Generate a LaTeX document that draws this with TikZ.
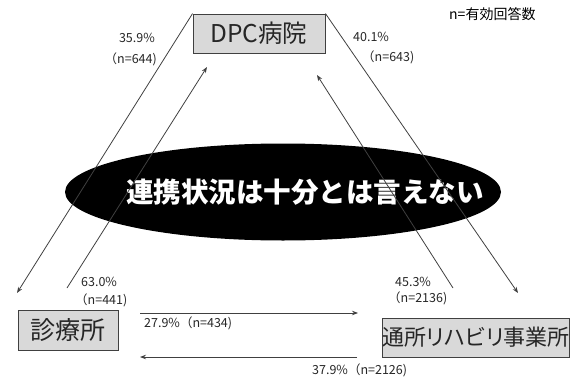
\documentclass[tikz,border=0pt]{standalone}
\usepackage{fontspec}
\setmainfont{Noto Sans CJK JP}
\newfontfamily\jpp[RawFeature=+palt]{Noto Sans CJK JP}
\usetikzlibrary{arrows.meta,shapes.geometric}
\definecolor{boxfill}{HTML}{D9D9D9}
\definecolor{linec}{HTML}{404040}
\tikzset{
  place/.style={draw=linec,fill=boxfill,line width=0.9pt,inner sep=0pt,font=\jpp\fontsize{24}{28}\selectfont},
  conn/.style={draw=linec,line width=0.8pt},
  arr/.style={conn,-{Stealth[length=6pt,width=4.5pt]}},
  lbl/.style={inner sep=0pt,font=\fontsize{12.5}{14}\selectfont,text=black!85},
}
\begin{document}
\begin{tikzpicture}[x=1pt,y=-1pt]
\useasboundingbox (0,0) rectangle (579,378);
% ellipse
\node[ellipse,fill=black,minimum width=436pt,minimum height=97pt,inner sep=0pt] (msg) at (283,192) {};
\node[text=white,inner sep=0pt,font=\bfseries\fontsize{27.5}{32}\selectfont] (msgt) at (305,192) {連携状況は十分とは言えない};
% boxes
\node[place,minimum width=132pt,minimum height=39pt,font=\jpp\fontsize{24.5}{28}\selectfont,text=black!85] (dpc) at (259,33.5) {DPC病院};
\node[place,minimum width=100pt,minimum height=40pt,font=\jpp\fontsize{25}{30}\selectfont,text=black!85] (clinic) at (68,330) {診療所};
\node[place,minimum width=186pt,minimum height=39pt,font=\jpp\fontsize{22}{28}\selectfont,text=black!85] (rehab) at (476,337.5) {通所リハビリ事業所};
% coordinates
\coordinate (a1) at (17,293);
\coordinate (b0) at (67,288);
\coordinate (b1) at (207,67);
\coordinate (c1) at (518,293);
\coordinate (d0) at (453,288);
\coordinate (d1) at (317,75);
\coordinate (h0) at (140,313);
\coordinate (h1) at (358,313);
\coordinate (g0) at (357,357);
\coordinate (g1) at (140,357);
% connectors
\draw[arr] (dpc.north west) -- (a1);
\draw[arr] (b0) -- (b1);
\draw[arr] (dpc.north east) -- (c1);
\draw[arr] (d0) -- (d1);
\draw[arr] (h0) -- (h1);
\draw[arr] (g0) -- (g1);
% labels
\node[lbl,anchor=east] (l1a) at (155,38) {35.9\%};
\node[lbl,anchor=east] (l1b) at (157,59) {（n=644)};
\node[lbl,anchor=west] (l2a) at (353,37) {40.1\%};
\node[lbl,anchor=west] (l2b) at (362,57) {（n=643)};
\node[lbl,anchor=west] (l3a) at (81,282) {63.0\%};
\node[lbl,anchor=west] (l3b) at (75,300) {（n=441)};
\node[lbl,anchor=west] (l4a) at (395,282) {45.3\%};
\node[lbl,anchor=west] (l4b) at (388,298) {（n=2136)};
\node[lbl,anchor=west] (l5) at (144,323) {27.9\%（n=434)};
\node[lbl,anchor=west] (l6) at (312,370) {37.9\%（n=2126)};
\node[inner sep=0pt,anchor=west,font=\fontsize{14}{16}\selectfont] (note) at (449,14) {n=有効回答数};
\end{tikzpicture}
\end{document}
